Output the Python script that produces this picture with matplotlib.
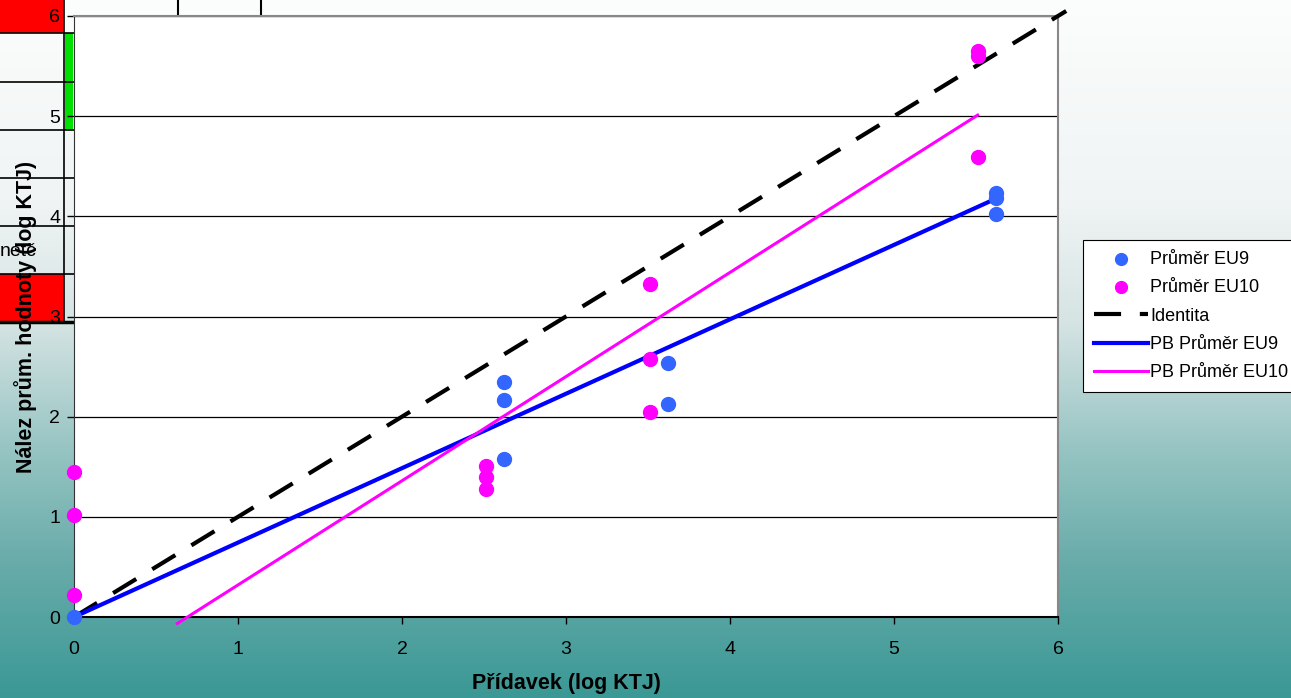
import numpy as np
import matplotlib
matplotlib.use('Agg')
import matplotlib.pyplot as plt
from matplotlib.patches import Rectangle
from matplotlib.lines import Line2D

plt.rcParams['font.family'] = ['Liberation Sans', 'DejaVu Sans']

# prumery EU9 a EU10 (log KTJ)
eu9_x = [0.0, 2.62, 2.62, 2.62, 3.62, 3.62, 5.62, 5.62, 5.62]
eu9_y = [0.0, 2.35, 2.17, 1.58, 2.54, 2.13, 4.23, 4.18, 4.02]
eu10_x = [0.0, 0.0, 0.0, 2.51, 2.51, 2.51, 3.51, 3.51, 3.51, 5.51, 5.51, 5.51]
eu10_y = [1.45, 1.02, 0.22, 1.51, 1.40, 1.28, 3.32, 2.58, 2.05, 5.65, 5.60, 4.59]

# Passing-Bablok primky: (usek, smernice, rozsah x)
pb_eu9 = (0.0, 0.743, [0.0, 5.62])
pb_eu10 = (-0.72, 1.04, [0.63, 5.51])
identita_x = [0.0, 6.05]

osa_ticks = [0, 1, 2, 3, 4, 5, 6]

W, H = 1291, 698
fig = plt.figure(figsize=(W / 100, H / 100), dpi=100)

# pozadi - prechod do tyrkysove
stops_y = [0, 200, 320, 450, 560, 698]
stops_c = np.array([[252, 253, 253], [240, 244, 244], [214, 228, 228],
                    [150, 196, 194], [105, 172, 170], [58, 152, 149]]) / 255.
yy = np.arange(H)
grad = np.stack([np.interp(yy, stops_y, stops_c[:, k]) for k in range(3)], axis=-1)
grad = np.repeat(grad[:, None, :], 8, axis=1)
bg = fig.add_axes([0, 0, 1, 1], zorder=-2)
bg.imshow(grad, aspect='auto', extent=[0, 1, 0, 1])
bg.axis('off')


def obdelnik(x0, y0, x1, y1, barva):
    fig.add_artist(Rectangle((x0 / W, 1 - y1 / H), (x1 - x0) / W, (y1 - y0) / H,
                             transform=fig.transFigure, facecolor=barva,
                             edgecolor='none', zorder=-1))


def cara(x0, y0, x1, y1, lw=1.2):
    fig.add_artist(Line2D([x0 / W, x1 / W], [1 - y0 / H, 1 - y1 / H],
                          transform=fig.transFigure, color='black', lw=lw, zorder=-1))


# zbytek tabulky za grafem
obdelnik(0, 0, 63, 33, '#ff0000')
obdelnik(0, 274, 63, 322, '#ff0000')
obdelnik(65, 33, 73, 130, '#00e000')
cara(64, 0, 64, 322)
for yr in [33, 82, 130, 178, 226, 274]:
    cara(0, yr, 74, yr)
cara(0, 322, 74, 322, lw=2.5)
cara(178, 0, 178, 15, lw=1.5)
cara(261, 0, 261, 15, lw=1.5)
fig.text(0, 1 - 252 / H, 'netč', fontsize=14, va='center', ha='left', zorder=-1)

ax = fig.add_axes([74 / W, (H - 617) / H, 984 / W, 601 / H])
ax.set_facecolor('white')

xs = np.array(identita_x)
ax.plot(xs, xs, color='black', lw=3, dashes=(6.5, 4.5), clip_on=False,
        label='Identita', zorder=3)
x9 = np.array(pb_eu9[2])
ax.plot(x9, pb_eu9[0] + pb_eu9[1] * x9, color='#0000ff', lw=3, clip_on=False,
        label='PB Průměr EU9', zorder=3)
x10 = np.array(pb_eu10[2])
ax.plot(x10, pb_eu10[0] + pb_eu10[1] * x10, color='#ff00ff', lw=2.2, clip_on=False,
        label='PB Průměr EU10', zorder=3)

ax.scatter(eu10_x, eu10_y, s=100, color='#ff00ff', clip_on=False,
           label='Průměr EU10', zorder=4)
ax.scatter(eu9_x, eu9_y, s=100, color='#3366ff', clip_on=False,
           label='Průměr EU9', zorder=5)

ax.set_xlim(0, 6)
ax.set_ylim(0, 6)
ax.set_xticks(osa_ticks)
ax.set_yticks(osa_ticks)
ax.tick_params(axis='both', direction='out', length=5, width=1, labelsize=14)
ax.tick_params(axis='x', pad=12)
ax.tick_params(axis='y', pad=5)
ax.grid(axis='y', color='black', lw=0.9)
ax.set_axisbelow(True)
for s in ['top', 'right']:
    ax.spines[s].set_color('#888888')
    ax.spines[s].set_linewidth(1.5)
ax.spines['left'].set_color('#333333')
ax.spines['bottom'].set_color('black')
ax.spines['bottom'].set_linewidth(1.5)

ax.set_xlabel('Přídavek (log KTJ)', fontsize=15.5, fontweight='bold')
ax.xaxis.set_label_coords(0.5, -0.093)
ax.set_ylabel('Nález prům. hodnoty (log KTJ)', fontsize=15.5, fontweight='bold')
ax.yaxis.set_label_coords(-0.038, 0.5)

h, l = ax.get_legend_handles_labels()
poradi = [4, 3, 0, 1, 2]
leg = ax.legend([h[i] for i in poradi], [l[i] for i in poradi],
                loc='upper left', bbox_to_anchor=(1083 / W, 1 - 240 / H),
                bbox_transform=fig.transFigure, borderaxespad=0,
                fontsize=13, handlelength=3.0, handletextpad=0.12,
                labelspacing=0.63, borderpad=0.6, fancybox=False,
                framealpha=1, edgecolor='black', scatterpoints=1,
                markerscale=0.85)
leg.get_frame().set_linewidth(0.8)

fig.savefig('out.png', dpi=100)
